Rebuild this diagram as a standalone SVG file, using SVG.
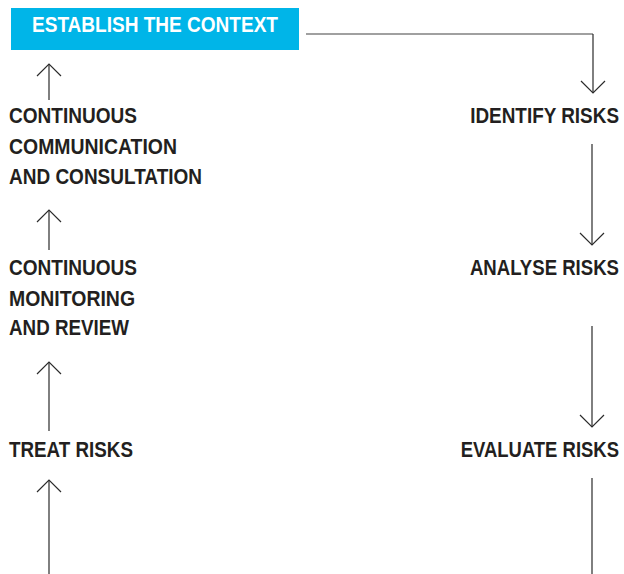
<svg xmlns="http://www.w3.org/2000/svg" width="624" height="574" viewBox="0 0 624 574">
<style>
.t{font-family:"Liberation Sans",Arial,sans-serif;font-weight:bold;font-size:22px;fill:#231f20}
.r{text-anchor:end}
.w{fill:#ffffff}
.c{fill:none;stroke:#2b2b2b;stroke-width:1.2}
.g{stroke:#808080;stroke-width:1.6}
</style>
<defs>
<marker id="ah" markerUnits="userSpaceOnUse" viewBox="-13 -13 26 26" markerWidth="26" markerHeight="26" refX="0" refY="0" orient="auto" overflow="visible">
<path d="M-12,-12 L0,0 L-12,12" fill="none" stroke="#2b2b2b" stroke-width="1.2"/>
</marker>
</defs>
<g id="connectors">
<path class="c g" d="M306,34 H593"/>
<path class="c" d="M593,34 V93" marker-end="url(#ah)"/>
<path class="c" d="M592,144 V245" marker-end="url(#ah)"/>
<path class="c" d="M592,326 V427" marker-end="url(#ah)"/>
<path class="c" d="M592,478 V574"/>
<path class="c" d="M49,574 V480" marker-end="url(#ah)"/>
<path class="c" d="M49,431 V362" marker-end="url(#ah)"/>
<path class="c" d="M49,250 V210" marker-end="url(#ah)"/>
<path class="c" d="M49,100 V64" marker-end="url(#ah)"/>
</g>
<g id="establish">
<rect x="11" y="8" width="288" height="42" fill="#00b5e8"/>
<text class="t w" x="32" y="32" textLength="246" lengthAdjust="spacingAndGlyphs">ESTABLISH THE CONTEXT</text>
</g>
<g id="identify">
<text class="t r" transform="translate(619,123) scale(0.86,1)">IDENTIFY RISKS</text>
</g>
<g id="analyse">
<text class="t r" transform="translate(619,275) scale(0.845,1)">ANALYSE RISKS</text>
</g>
<g id="evaluate">
<text class="t r" transform="translate(619,457) scale(0.84,1)">EVALUATE RISKS</text>
</g>
<g id="treat">
<text class="t" x="9" y="457" textLength="124" lengthAdjust="spacingAndGlyphs">TREAT RISKS</text>
</g>
<g id="monitoring">
<text class="t" x="9" y="275" textLength="128" lengthAdjust="spacingAndGlyphs">CONTINUOUS</text>
<text class="t" x="9" y="306" textLength="126" lengthAdjust="spacingAndGlyphs">MONITORING</text>
<text class="t" x="9" y="335" textLength="120" lengthAdjust="spacingAndGlyphs">AND REVIEW</text>
</g>
<g id="communication">
<text class="t" x="9" y="123" textLength="128" lengthAdjust="spacingAndGlyphs">CONTINUOUS</text>
<text class="t" x="9" y="154" textLength="168" lengthAdjust="spacingAndGlyphs">COMMUNICATION</text>
<text class="t" x="9" y="184" textLength="193" lengthAdjust="spacingAndGlyphs">AND CONSULTATION</text>
</g>
</svg>
